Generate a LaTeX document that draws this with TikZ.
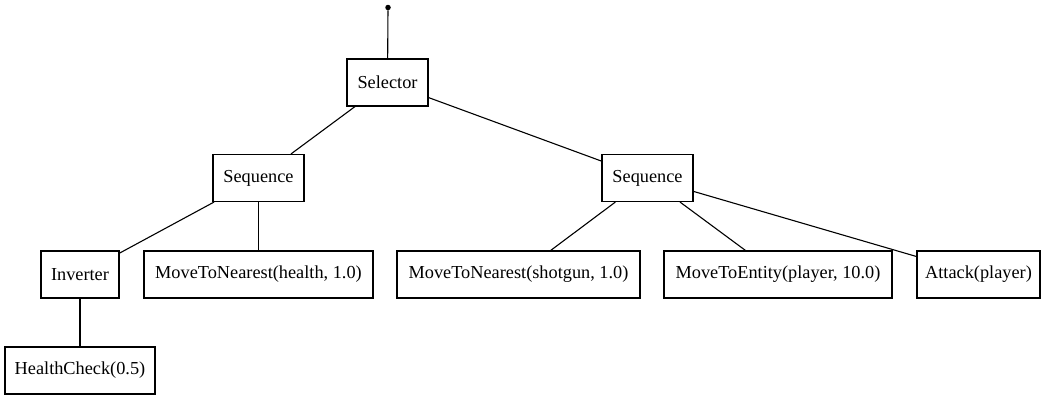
\documentclass[tikz,border=0pt]{standalone}
\usepackage{fontspec}
\setmainfont{Liberation Serif}
\begin{document}
\begin{tikzpicture}[x=1pt,y=-1pt,
  bt/.style={draw, line width=1.1pt, inner sep=0pt, minimum height=47pt, font=\fontsize{18.3}{22}\selectfont},
  edge/.style={line width=1.1pt}]
\useasboundingbox (0,0) rectangle (1048,400);
\node[circle, fill, inner sep=0pt, minimum size=5.5pt] (root) at (388,7.5) {};
\node[bt, minimum width=81pt] (sel) at (387.5,82.5) {Selector};
\node[bt, minimum width=91pt] (seqL) at (258.5,178) {Sequence};
\node[bt, minimum width=91pt] (seqR) at (647.5,178) {Sequence};
\node[bt, minimum width=78pt] (inv) at (80,274.5) {Inverter};
\node[bt, minimum width=229pt] (mtnh) at (258.5,274.5) {MoveToNearest(health, 1.0)};
\node[bt, minimum width=243pt] (mtns) at (518.5,274.5) {MoveToNearest(shotgun, 1.0)};
\node[bt, minimum width=228pt] (mte) at (778,274.5) {MoveToEntity(player, 10.0)};
\node[bt, minimum width=123pt] (att) at (978.5,274.5) {Attack(player)};
\node[bt, minimum width=150pt] (hc) at (80,370.5) {HealthCheck(0.5)};
\draw[edge] (root) -- (sel);
\draw[edge] (sel) -- (seqL);
\draw[edge] (sel) -- (seqR);
\draw[edge] (seqL) -- (inv);
\draw[edge] (seqL) -- (mtnh);
\draw[edge] (inv) -- (hc);
\draw[edge] (seqR) -- (mtns);
\draw[edge] (seqR) -- (mte);
\draw[edge] (seqR) -- (att);
\end{tikzpicture}
\end{document}
